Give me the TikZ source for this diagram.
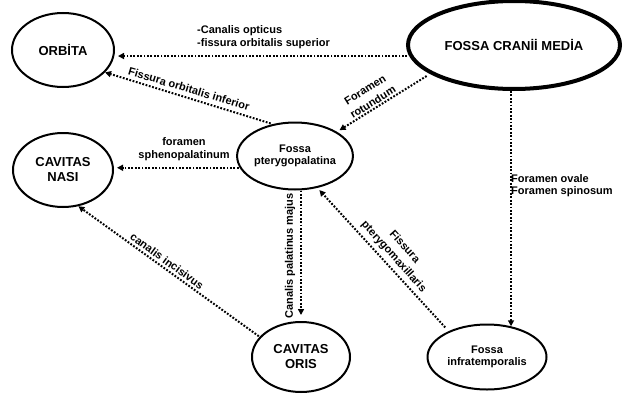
\documentclass[tikz,border=0pt]{standalone}
\usepackage{fontspec}
\setmainfont{Liberation Sans}
\usetikzlibrary{shapes.geometric,arrows.meta}
\begin{document}
\begin{tikzpicture}[x=1pt,y=-1pt,
  region/.style={draw=black,ellipse,line width=2pt,inner sep=0pt,align=center,font=\fontsize{13}{15}\selectfont\bfseries},
  smallregion/.style={region,font=\fontsize{11}{12.5}\selectfont\bfseries},
  arr/.style={line width=2pt,dash pattern=on 1.8pt off 1.6pt,-{Triangle[length=6pt,width=6pt]}},
  lbl/.style={inner sep=0pt,align=center,font=\fontsize{11}{12.5}\selectfont\bfseries},
  rlbl/.style={lbl,font=\fontsize{11}{14.5}\selectfont\bfseries},
]
\useasboundingbox (0,0) rectangle (623,396);
\fill[white] (0,0) rectangle (623,396);

\node[region,minimum width=102pt,minimum height=74pt] (orbita) at (63,50) {ORBİTA};
\node[region,line width=4pt,minimum width=212pt,minimum height=88pt] (media) at (514,45) {FOSSA CRANİİ MEDİA};
\node[region,minimum width=100pt,minimum height=74pt] (nasi) at (63,170) {CAVITAS\\NASI};
\node[smallregion,minimum width=100pt,minimum height=67pt] (ptery) at (295,156) {Fossa\\pterygopalatina};
\node[region,minimum width=98pt,minimum height=70pt] (oris) at (301,357) {CAVITAS\\ORIS};
\node[smallregion,minimum width=119pt,minimum height=65pt] (infra) at (487,357) {Fossa\\infratemporalis};

\draw[arr,shorten >=3pt,shorten <=2pt] (media.186) -- (orbita.east |- media.186);
\draw[arr,shorten <=2pt] (ptery.125) -- (orbita.-28);
\draw[arr,shorten >=3pt,shorten <=4pt] (media.199) -- (ptery.30);
\draw[arr,shorten >=3pt,shorten <=1pt] (ptery.192) -- (nasi.east |- ptery.192);
\draw[arr,shorten >=6pt] (oris.north |- ptery.south) -- (oris.north);
\draw[arr,shorten >=3pt,shorten <=5pt] (infra.146) -- (ptery.-55);
\draw[arr] (media.south -| infra.52) -- (infra.52);
\draw[arr,shorten <=1pt] (oris.154) -- (nasi.-67);

\node[lbl,anchor=west,align=left] (l1) at (197,37) {-Canalis opticus\\-fissura orbitalis superior};
\node[lbl,rotate=-16.7] (l2) at (189,89) {Fissura orbitalis inferior};
\node[rlbl,rotate=32] (l3) at (369,96) {Foramen\\rotundum};
\node[lbl] (l4) at (184,149) {foramen\\sphenopalatinum};
\node[lbl,rotate=90] (l5) at (290,256) {Canalis palatinus majus};
\node[rlbl,rotate=-48] (l6) at (399,252) {Fissura\\pterygomaxillaris};
\node[lbl,rotate=-36] (l7) at (167,261) {canalis incisivus};
\node[lbl,anchor=west,align=left] (l8) at (511,185.5) {Foramen ovale\\Foramen spinosum};
\end{tikzpicture}
\end{document}
